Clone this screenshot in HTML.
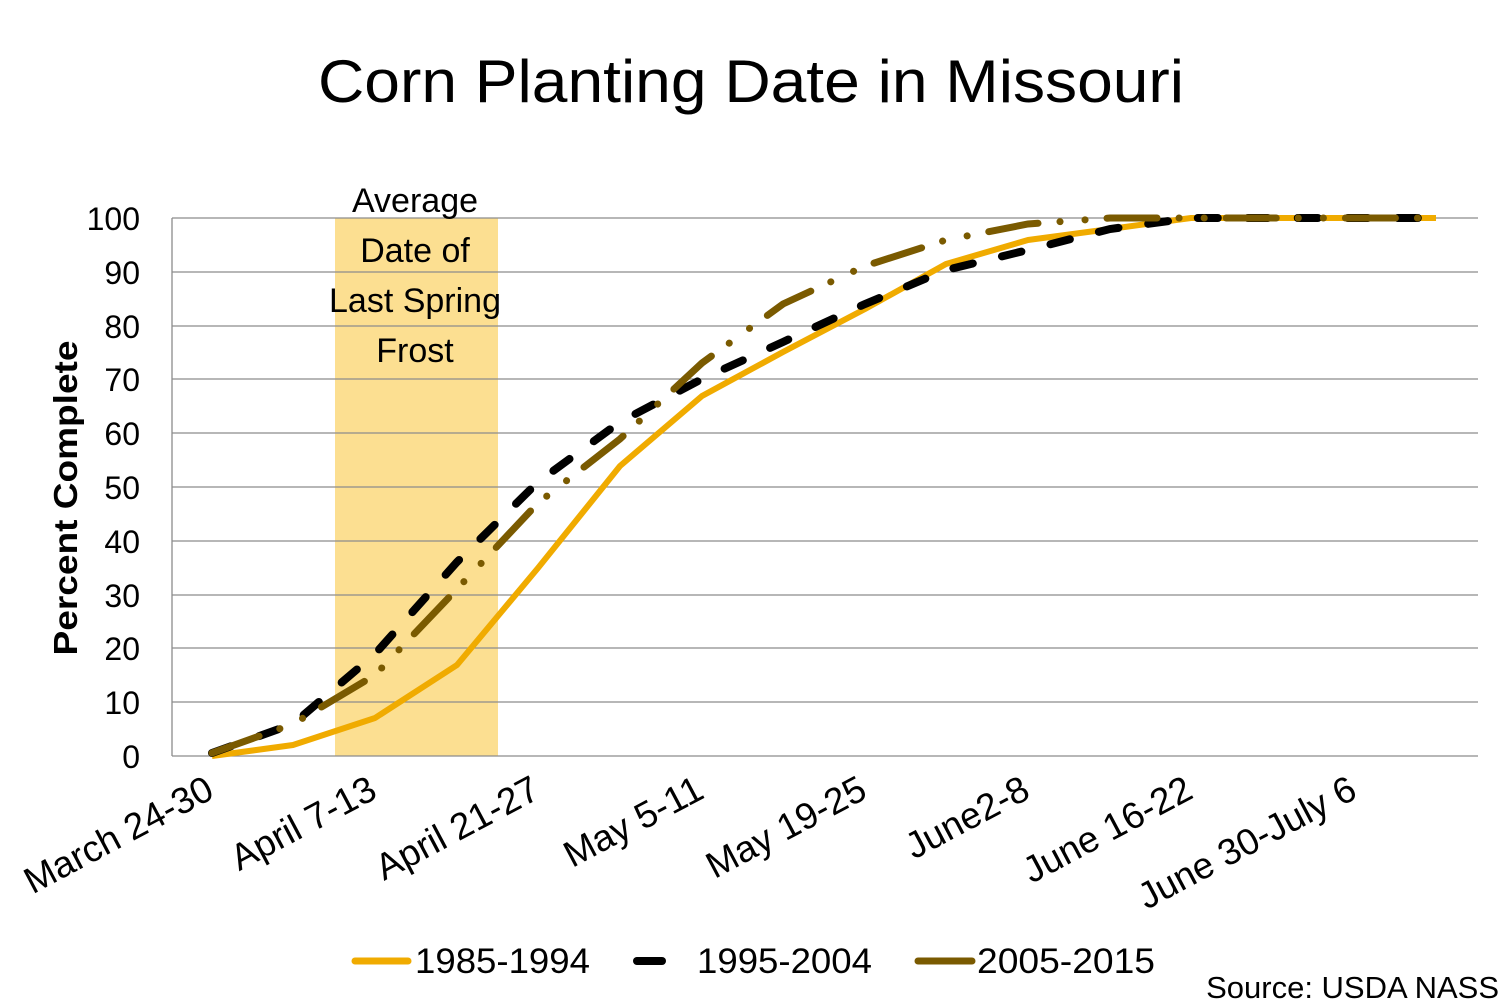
<!DOCTYPE html>
<html><head><meta charset="utf-8"><style>body{margin:0;background:#fff}svg{display:block}</style></head>
<body>
<svg width="1501" height="1000" xmlns="http://www.w3.org/2000/svg" font-family="Liberation Sans, Arial, sans-serif">
<rect width="1501" height="1000" fill="#fff"/>
<text x="751" y="102" font-size="60" text-anchor="middle" textLength="866" lengthAdjust="spacingAndGlyphs">Corn Planting Date in Missouri</text>
<rect x="335" y="218" width="163" height="538" fill="#FCDF91"/>
<g stroke="#8c8c8c" stroke-width="1.3">
<line x1="172" y1="218" x2="1478" y2="218"/><line x1="172" y1="272" x2="1478" y2="272"/>
<line x1="172" y1="326" x2="1478" y2="326"/><line x1="172" y1="379" x2="1478" y2="379"/>
<line x1="172" y1="433" x2="1478" y2="433"/><line x1="172" y1="487" x2="1478" y2="487"/>
<line x1="172" y1="541" x2="1478" y2="541"/><line x1="172" y1="595" x2="1478" y2="595"/>
<line x1="172" y1="648" x2="1478" y2="648"/><line x1="172" y1="702" x2="1478" y2="702"/>
<line x1="172" y1="756" x2="1478" y2="756"/><line x1="172" y1="218" x2="172" y2="756"/>
</g>
<g font-size="32" text-anchor="end">
<text x="140" y="230">100</text><text x="140" y="284">90</text><text x="140" y="338">80</text>
<text x="140" y="391">70</text><text x="140" y="445">60</text><text x="140" y="499">50</text>
<text x="140" y="553">40</text><text x="140" y="607">30</text><text x="140" y="660">20</text>
<text x="140" y="714">10</text><text x="140" y="768">0</text>
</g>
<text transform="translate(77,498) rotate(-90)" font-size="33" font-weight="bold" text-anchor="middle" textLength="315" lengthAdjust="spacingAndGlyphs">Percent Complete</text>
<g font-size="34" text-anchor="middle" font-family="Liberation Sans, sans-serif">
<text x="415" y="212">Average</text><text x="415" y="262">Date of</text>
<text x="415" y="312">Last Spring</text><text x="415" y="362">Frost</text>
</g>
<polyline fill="none" stroke="#F0AB00" stroke-width="6" stroke-linejoin="round" points="212,756 293,745 375,718 457,665 538,568 620,466 702,396 783,352 865,309 946,264 1028,240 1110,229 1191,218 1273,218 1355,218 1436,218"/>
<polyline fill="none" stroke="#000" stroke-width="8" stroke-linecap="round" stroke-dasharray="20 30" points="212,753 293,724 375,654 457,562 538,482 620,422 702,379 783,342 865,304 946,270 1028,250 1110,229 1191,218 1273,218 1355,218 1436,218"/>
<polyline fill="none" stroke="#7A5A00" stroke-width="7" stroke-linecap="round" stroke-dasharray="50 22 0.1 25 0.1 22" points="212,753 293,724 375,675 457,589 538,503 620,439 702,363 783,304 865,266 946,240 1028,224 1110,218 1191,218 1273,218 1355,218 1436,218"/>
<g font-size="37" text-anchor="end">
<text transform="translate(216,797) rotate(-28)">March 24-30</text>
<text transform="translate(379,797) rotate(-28)">April 7-13</text>
<text transform="translate(542,797) rotate(-28)">April 21-27</text>
<text transform="translate(706,797) rotate(-28)">May 5-11</text>
<text transform="translate(869,797) rotate(-28)">May 19-25</text>
<text transform="translate(1032,797) rotate(-28)">June2-8</text>
<text transform="translate(1195,797) rotate(-28)">June 16-22</text>
<text transform="translate(1359,797) rotate(-28)">June 30-July 6</text>
</g>
<line x1="355" y1="961" x2="408" y2="961" stroke="#F0AB00" stroke-width="7" stroke-linecap="round"/>
<text x="415" y="973" font-size="35" textLength="175" lengthAdjust="spacingAndGlyphs">1985-1994</text>
<line x1="637" y1="961" x2="662" y2="961" stroke="#000" stroke-width="8" stroke-linecap="round"/>
<text x="697" y="973" font-size="35" textLength="175" lengthAdjust="spacingAndGlyphs">1995-2004</text>
<line x1="918" y1="961" x2="972" y2="961" stroke="#7A5A00" stroke-width="7" stroke-linecap="round"/>
<text x="977" y="973" font-size="35" textLength="178" lengthAdjust="spacingAndGlyphs">2005-2015</text>
<text x="1499" y="998" font-size="31" text-anchor="end">Source: USDA NASS</text>
</svg>
</body></html>
